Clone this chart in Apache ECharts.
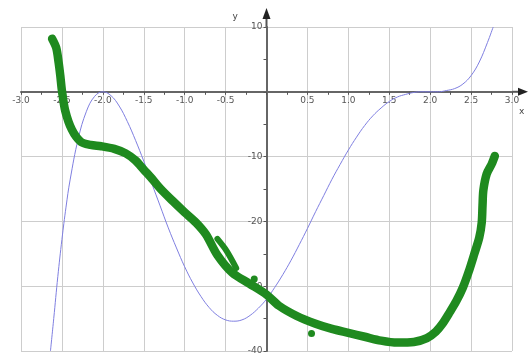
<!DOCTYPE html>
<html>
<head>
<meta charset="utf-8">
<script src="https://cdn.jsdelivr.net/npm/echarts@6/dist/echarts.min.js"></script>
<style>
  html, body { margin: 0; padding: 0; background: #fff; }
  #main { width: 528px; height: 358px; }
</style>
</head>
<body>
<div id="main"></div>
<script>
// blue curve
const blueX = [-2.64, -2.6, -2.55, -2.5, -2.45, -2.4, -2.3, -2.2, -2.1, -2.0, -1.9, -1.8, -1.7, -1.6, -1.5, -1.4, -1.3, -1.2, -1.1, -1.0,
  -0.9, -0.8, -0.7, -0.6, -0.5, -0.4, -0.3, -0.2, -0.1, 0, 0.1, 0.2, 0.3, 0.4, 0.5, 0.6, 0.7, 0.8, 0.9, 1.0,
  1.1, 1.2, 1.3, 1.4, 1.5, 1.6, 1.7, 1.8, 1.9, 2.0, 2.1, 2.2, 2.3, 2.4, 2.5, 2.6, 2.7, 2.77]
const blueY = [-40, -35, -28.5, -22.8, -17.8, -13.6, -7.2, -3.0, -0.7, 0, -0.6, -2.2, -4.6, -7.5, -10.7, -14.2, -17.6, -21.0, -24.1, -27.0,
  -29.5, -31.6, -33.3, -34.5, -35.2, -35.4, -35.2, -34.5, -33.4, -32.0, -30.2, -28.2, -26.0, -23.6, -21.1, -18.5, -16.0, -13.5, -11.2, -9.0,
  -7.0, -5.2, -3.7, -2.5, -1.5, -0.8, -0.4, -0.1, 0, 0, 0, 0.2, 0.5, 1.2, 2.5, 4.6, 7.6, 10]

// green hand-drawn stroke
const greenX = [-2.62, -2.57, -2.54, -2.52, -2.5, -2.46, -2.38, -2.27, -2.15, -2.02, -1.86, -1.72, -1.6, -1.5, -1.4, -1.3, -1.15, -1.0,
  -0.86, -0.74, -0.6, -0.42, -0.21, 0, 0.15, 0.37, 0.6, 0.8, 1.0, 1.2, 1.4, 1.6, 1.8, 1.96, 2.07, 2.15, 2.24, 2.32, 2.4, 2.47,
  2.54, 2.6, 2.63, 2.64, 2.65, 2.69, 2.75, 2.79]
const greenY = [8.2, 6.8, 4.5, 2.5, 0.2, -2.9, -5.8, -7.7, -8.2, -8.4, -8.8, -9.5, -10.6, -12.0, -13.4, -14.9, -16.8, -18.6,
  -20.2, -22.0, -25.2, -27.9, -29.6, -31.3, -33.0, -34.6, -35.8, -36.6, -37.2, -37.8, -38.4, -38.7, -38.6, -38.0, -37.0, -35.8, -34.0, -32.3, -30.2, -27.8,
  -25.0, -22.5, -20.2, -17.5, -15.2, -12.7, -11.2, -9.9]
// second short stroke beside the main one
const green2X = [-0.6, -0.49, -0.37]
const green2Y = [-22.7, -24.5, -27.2]
// stray blobs
const blobX = [-0.15, 0.55, -1.45]
const blobY = [-28.9, -37.3, -12.6]

const xTicks = { min: -3, max: 3, step: 0.5 }
const yTicks = { min: -40, max: 10, step: 10 }

const pairs = (xs, ys) => xs.map((x, i) => [x, ys[i]])

const W = 528
const H = 358
const grid = { left: 21, right: 16, top: 27, bottom: 7 }
// move the axes onto the zero lines (labels and ticks go with them)
const gridW = W - grid.left - grid.right
const gridH = H - grid.top - grid.bottom
const xAxisOffset = -gridH * (0 - yTicks.min) / (yTicks.max - yTicks.min)
const yAxisOffset = -gridW * (0 - xTicks.min) / (xTicks.max - xTicks.min)

const chart = echarts.init(document.getElementById('main'))
const labelStyle = { fontSize: 9, color: '#555', fontFamily: 'DejaVu Sans' }

chart.setOption({
  animation: false,
  grid: grid,
  xAxis: {
    type: 'value',
    position: 'bottom',
    offset: xAxisOffset,
    min: xTicks.min,
    max: xTicks.max,
    interval: xTicks.step,
    axisLine: { onZero: false, lineStyle: { color: '#666', width: 2 } },
    axisTick: { show: true, length: 3, lineStyle: { color: '#555' } },
    minorTick: { show: true, splitNumber: 2, length: 3, lineStyle: { color: '#555' } },
    axisLabel: Object.assign({ margin: 4, formatter: v => (v === 0 ? '' : v.toFixed(1)) }, labelStyle),
    splitLine: { show: true, lineStyle: { color: '#cdcdcd', width: 1 } }
  },
  yAxis: {
    type: 'value',
    position: 'left',
    offset: yAxisOffset,
    min: yTicks.min,
    max: yTicks.max,
    interval: yTicks.step,
    axisLine: { onZero: false, lineStyle: { color: '#666', width: 2 } },
    axisTick: { show: true, length: 3, lineStyle: { color: '#555' } },
    minorTick: { show: true, splitNumber: 2, length: 3, lineStyle: { color: '#555' } },
    axisLabel: Object.assign({ margin: 4, formatter: v => (v === 0 ? '' : String(v)) }, labelStyle),
    splitLine: { show: true, lineStyle: { color: '#cdcdcd', width: 1 } }
  },
  series: [
    {
      type: 'line',
      data: pairs(blueX, blueY),
      smooth: 0.4,
      showSymbol: false,
      lineStyle: { color: '#7f7fe0', width: 1 }
    },
    {
      type: 'line',
      data: pairs(greenX, greenY),
      smooth: 0.3,
      showSymbol: false,
      lineStyle: { color: '#1f8a1f', width: 8.5, cap: 'round', join: 'round' }
    },
    {
      type: 'line',
      data: pairs(green2X, green2Y),
      smooth: 0.3,
      showSymbol: false,
      lineStyle: { color: '#1f8a1f', width: 6, cap: 'round', join: 'round' }
    },
    {
      type: 'scatter',
      data: pairs(blobX, blobY),
      symbolSize: 7,
      itemStyle: { color: '#1f8a1f', opacity: 1 }
    }
  ]
})

// axis arrows and x / y names beyond the grid
const xEnd = chart.convertToPixel({ gridIndex: 0 }, [xTicks.max, 0])
const yEnd = chart.convertToPixel({ gridIndex: 0 }, [0, yTicks.max])
chart.setOption({
  graphic: [
    { type: 'line', shape: { x1: xEnd[0], y1: xEnd[1], x2: xEnd[0] + 8, y2: xEnd[1] }, style: { stroke: '#555', lineWidth: 2 } },
    { type: 'polygon', shape: { points: [[xEnd[0] + 16, xEnd[1]], [xEnd[0] + 6, xEnd[1] - 4], [xEnd[0] + 6, xEnd[1] + 4]] }, style: { fill: '#222' } },
    { type: 'line', shape: { x1: yEnd[0], y1: yEnd[1], x2: yEnd[0], y2: yEnd[1] - 10 }, style: { stroke: '#555', lineWidth: 2 } },
    { type: 'polygon', shape: { points: [[yEnd[0], yEnd[1] - 19], [yEnd[0] - 4, yEnd[1] - 8], [yEnd[0] + 4, yEnd[1] - 8]] }, style: { fill: '#222' } },
    { type: 'text', x: xEnd[0] + 7, y: xEnd[1] + 15, style: { text: 'x', fontSize: 9, fill: '#444', fontFamily: 'DejaVu Sans' } },
    { type: 'text', x: yEnd[0] - 34, y: yEnd[1] - 15, style: { text: 'y', fontSize: 9, fill: '#444', fontFamily: 'DejaVu Sans' } }
  ]
})
</script>
</body>
</html>
